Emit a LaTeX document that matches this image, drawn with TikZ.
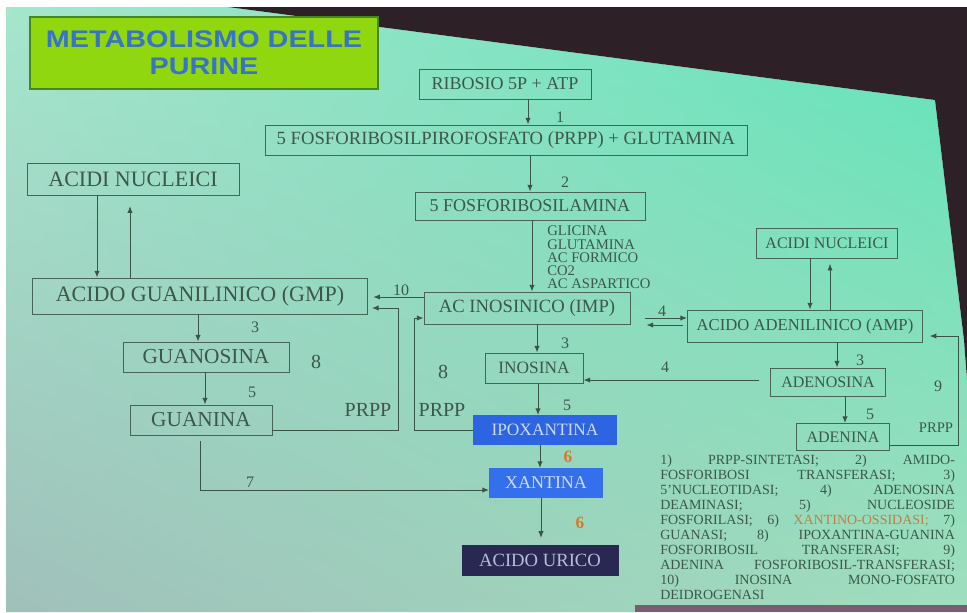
\documentclass[tikz,border=0pt]{standalone}
\usepackage{fontspec}
\setmainfont{Liberation Serif}
\newfontfamily\titlefont{Liberation Sans}
\usetikzlibrary{arrows.meta,calc,shadings}
\definecolor{bgUL}{RGB}{165,230,205}
\definecolor{bgUR}{RGB}{95,228,185}
\definecolor{bgLL}{RGB}{160,192,186}
\definecolor{bgLR}{RGB}{160,222,190}
\definecolor{darkframe}{RGB}{45,32,38}
\definecolor{bottomstrip}{RGB}{120,92,112}
\definecolor{boxcol}{RGB}{72,100,86}
\definecolor{linecol}{RGB}{58,84,70}
\definecolor{textcol}{RGB}{60,88,74}
\definecolor{titlefill}{RGB}{145,215,15}
\definecolor{titleborder}{RGB}{70,135,30}
\definecolor{titletext}{RGB}{55,115,200}
\definecolor{ipofill}{RGB}{45,100,225}
\definecolor{xanfill}{RGB}{52,112,235}
\definecolor{uricfill}{RGB}{40,40,82}
\definecolor{lighttext}{RGB}{205,218,245}
\definecolor{urictext}{RGB}{180,190,215}
\definecolor{orangelab}{RGB}{220,120,35}
\definecolor{orangeleg}{RGB}{185,130,70}
\newcommand\myfs[1]{\fontsize{#1}{#1}\selectfont}
\begin{document}
\begin{tikzpicture}[x=0.75pt,y=-0.75pt,
  bx/.style 2 args={draw=boxcol,line width=0.7pt,text=textcol,minimum width=#1*0.75pt,minimum height=#2*0.75pt,inner sep=0pt},
  arr/.style={draw=linecol,line width=0.7pt,-{Latex[length=5pt,width=4pt]}},
  lab/.style={text=textcol,inner sep=0pt,font=\myfs{12}},
  big/.style={text=textcol,inner sep=0pt,font=\myfs{15}},
  six/.style={text=orangelab,inner sep=0pt,font=\myfs{13}\bfseries},
]
\useasboundingbox (0,0) rectangle (967,612);
% background
\fill[white] (0,0) rectangle (967,612);
\begin{scope}
  \clip (6,7) -- (228,7) -- (935,100) -- (964,340) -- (967,380) -- (967,612) -- (6,612) -- cycle;
  \shade[upper left=bgUL,upper right=bgUR,lower left=bgLL,lower right=bgLR] (6,7) rectangle (967,612);
\end{scope}
\fill[darkframe] (228,7) -- (967,7) -- (967,380) -- (964,340) -- (935,100) -- cycle;
\fill[bottomstrip] (635,605) rectangle (967,612);

% title
\node[bx={348}{72},fill=titlefill,draw=titleborder,line width=1.8pt,text=titletext,align=center,
      font=\titlefont\bfseries\fontsize{18}{20}\selectfont] (title) at (204,53)
  {\scalebox{1.2}[1]{METABOLISMO DELLE}\\\scalebox{1.2}[1]{PURINE}};

% main column
\node[bx={172}{30}] (ribosio) at (505,84) {\myfs{13.5}RIBOSIO 5P + ATP};
\node[bx={482}{30}] (prpp) at (506,140) {\myfs{14}5 FOSFORIBOSILPIROFOSFATO (PRPP) + GLUTAMINA};
\node[bx={230}{28}] (fra) at (530,206) {\myfs{13.5}5 FOSFORIBOSILAMINA};
\node[bx={206}{32}] (imp) at (527,308) {\myfs{14}AC INOSINICO (IMP)};
\node[bx={98}{30}] (ino) at (534,368) {\myfs{13}INOSINA};
\node[bx={143}{29},fill=ipofill,draw=ipofill,text=lighttext] (ipo) at (545,430) {\myfs{13}IPOXANTINA};
\node[bx={113}{29},fill=xanfill,draw=xanfill,text=lighttext] (xan) at (546,483) {\myfs{13.5}XANTINA};
\node[bx={156}{30},fill=uricfill,draw=uricfill,text=urictext] (uric) at (540,560) {\myfs{14}ACIDO URICO};

% left column
\node[bx={212}{32}] (anl) at (133,179) {\myfs{16.5}ACIDI NUCLEICI};
\node[bx={335}{36}] (gmp) at (200,296) {\myfs{16.5}ACIDO GUANILINICO (GMP)};
\node[bx={166}{30}] (guo) at (206,357) {\myfs{16}GUANOSINA};
\node[bx={142}{30}] (gua) at (201,420) {\myfs{16}GUANINA};

% right column
\node[bx={141}{30}] (anr) at (827,243) {\myfs{12}ACIDI NUCLEICI};
\node[bx={235}{32}] (amp) at (805,326) {\myfs{12.5}ACIDO ADENILINICO (AMP)};
\node[bx={115}{28}] (ado) at (828,382) {\myfs{12}ADENOSINA};
\node[bx={93}{27}] (ade) at (843,437) {\myfs{12}ADENINA};

% substrate list
\node[anchor=north west,inner sep=0pt,align=left,text=textcol,font=\fontsize{11}{9.8}\selectfont] (subs) at (547,226)
  {GLICINA\\GLUTAMINA\\AC FORMICO\\CO2\\AC ASPARTICO};

% helper coordinates
\coordinate (c1) at (528,0);
\coordinate (c2) at (530,0);
\coordinate (c3) at (532,0);
\coordinate (c4) at (97,0);
\coordinate (c5) at (130,0);
\coordinate (c6) at (198,0);
\coordinate (c7) at (205,0);
\coordinate (c8) at (537,0);
\coordinate (c9) at (538,0);
\coordinate (c10) at (540,0);
\coordinate (c11) at (541,0);
\coordinate (c12) at (810,0);
\coordinate (c13) at (830,0);
\coordinate (c14) at (837,0);
\coordinate (c15) at (845,0);
\coordinate (y297) at (0,297);
\coordinate (y318) at (0,318);
\coordinate (y325) at (0,325);
\coordinate (y380) at (0,380);
\coordinate (r1) at (398,430);
\coordinate (r2) at (398,308);
\coordinate (r3) at (414,430);
\coordinate (r4) at (414,318);
\coordinate (r5) at (200,490);
\coordinate (r6) at (958,445);
\coordinate (r7) at (958,336);

% main column arrows
\draw[arr] (ribosio.south -| c1) -- (prpp.north -| c1);
\node[lab] (l1) at (560,117) {1};
\draw[arr] (prpp.south -| c2) -- (fra.north -| c2);
\node[lab] (l2) at (565,182) {2};
\draw[arr] (fra.south -| c3) -- (imp.north -| c3);
\draw[arr] (imp.south -| c8) -- (ino.north -| c8);
\node[lab] (l3a) at (565,343) {3};
\draw[arr] (ino.south -| c9) -- (ipo.north -| c9);
\node[lab] (l5a) at (567,405) {5};
\draw[arr] (ipo.south -| c10) -- (xan.north -| c10);
\node[six] (l6a) at (568,457) {6};
\draw[arr,shorten >=5pt] (xan.south -| c11) -- (uric.north -| c11);
\node[six] (l6b) at (580,523) {6};

% left column arrows
\draw[arr] (anl.south -| c4) -- (gmp.north -| c4);
\draw[arr,shorten >=8pt] (gmp.north -| c5) -- (anl.south -| c5);
\draw[arr,shorten >=4pt] (imp.west |- y297) -- (gmp.east |- y297);
\node[lab] (l10) at (401,290) {10};
\draw[arr] (gmp.south -| c6) -- (guo.north -| c6);
\node[lab] (l3b) at (255,327) {3};
\draw[arr] (guo.south -| c7) -- (gua.north -| c7);
\node[lab] (l5b) at (252,392) {5};
\draw[arr,shorten >=3pt] (gua.east |- r1) -- (r1) -- (r2) -- (gmp.east |- r2);
\node[big] (l8a) at (316,362) {8};
\node[big] (prppa) at (368,410) {PRPP};
\draw[arr] (ipo.west |- r3) -- (r3) -- (r4) -- (imp.west |- r4);
\node[big] (l8b) at (443,372) {8};
\node[big] (prppb) at (442,410) {PRPP};
\draw[arr,shorten <=4pt] (gua.south -| r5) -- (r5) -- (xan.west |- r5);
\node[lab] (l7) at (250,482) {7};

% right column arrows
\draw[arr] (anr.south -| c12) -- (amp.north -| c12);
\draw[arr,shorten >=4pt] (amp.north -| c13) -- (anr.south -| c13);
\draw[arr,shorten <=11pt] (imp.east |- y318) -- (amp.west |- y318);
\draw[arr,shorten <=3pt,shorten >=12pt] (amp.west |- y325) -- (imp.east |- y325);
\node[lab] (l4a) at (662,311) {4};
\draw[arr] (amp.south -| c14) -- (ado.north -| c14);
\node[lab] (l3c) at (860,360) {3};
\draw[arr,shorten <=8pt] (ado.west |- y380) -- (ino.east |- y380);
\node[lab] (l4b) at (665,367) {4};
\draw[arr] (ado.south -| c15) -- (ade.north -| c15);
\node[lab] (l5c) at (870,414) {5};
\draw[arr,shorten >=5pt] (ade.east |- r6) -- (r6) -- (r7) -- (amp.east |- r7);
\node[lab] (l9) at (938,386) {9};
\node[lab,font=\myfs{11}] (prppc) at (936,428) {PRPP};

% legend
\node[anchor=north west,inner sep=0pt,align=left,text=textcol,font=\fontsize{10.5}{11.25}\selectfont] (legend) at (660,455)
  {\makebox[221pt][s]{1) PRPP-SINTETASI; 2) AMIDO-}\\
   \makebox[221pt][s]{FOSFORIBOSI TRANSFERASI; 3)}\\
   \makebox[221pt][s]{5'NUCLEOTIDASI; 4) ADENOSINA}\\
   \makebox[221pt][s]{DEAMINASI; 5) NUCLEOSIDE}\\
   \makebox[221pt][s]{FOSFORILASI; 6) \textcolor{orangeleg}{XANTINO-OSSIDASI;} 7)}\\
   \makebox[221pt][s]{GUANASI; 8) IPOXANTINA-GUANINA}\\
   \makebox[221pt][s]{FOSFORIBOSIL TRANSFERASI; 9)}\\
   \makebox[221pt][s]{ADENINA FOSFORIBOSIL-TRANSFERASI;}\\
   \makebox[221pt][s]{10) INOSINA MONO-FOSFATO}\\
   DEIDROGENASI};
\end{tikzpicture}
\end{document}
